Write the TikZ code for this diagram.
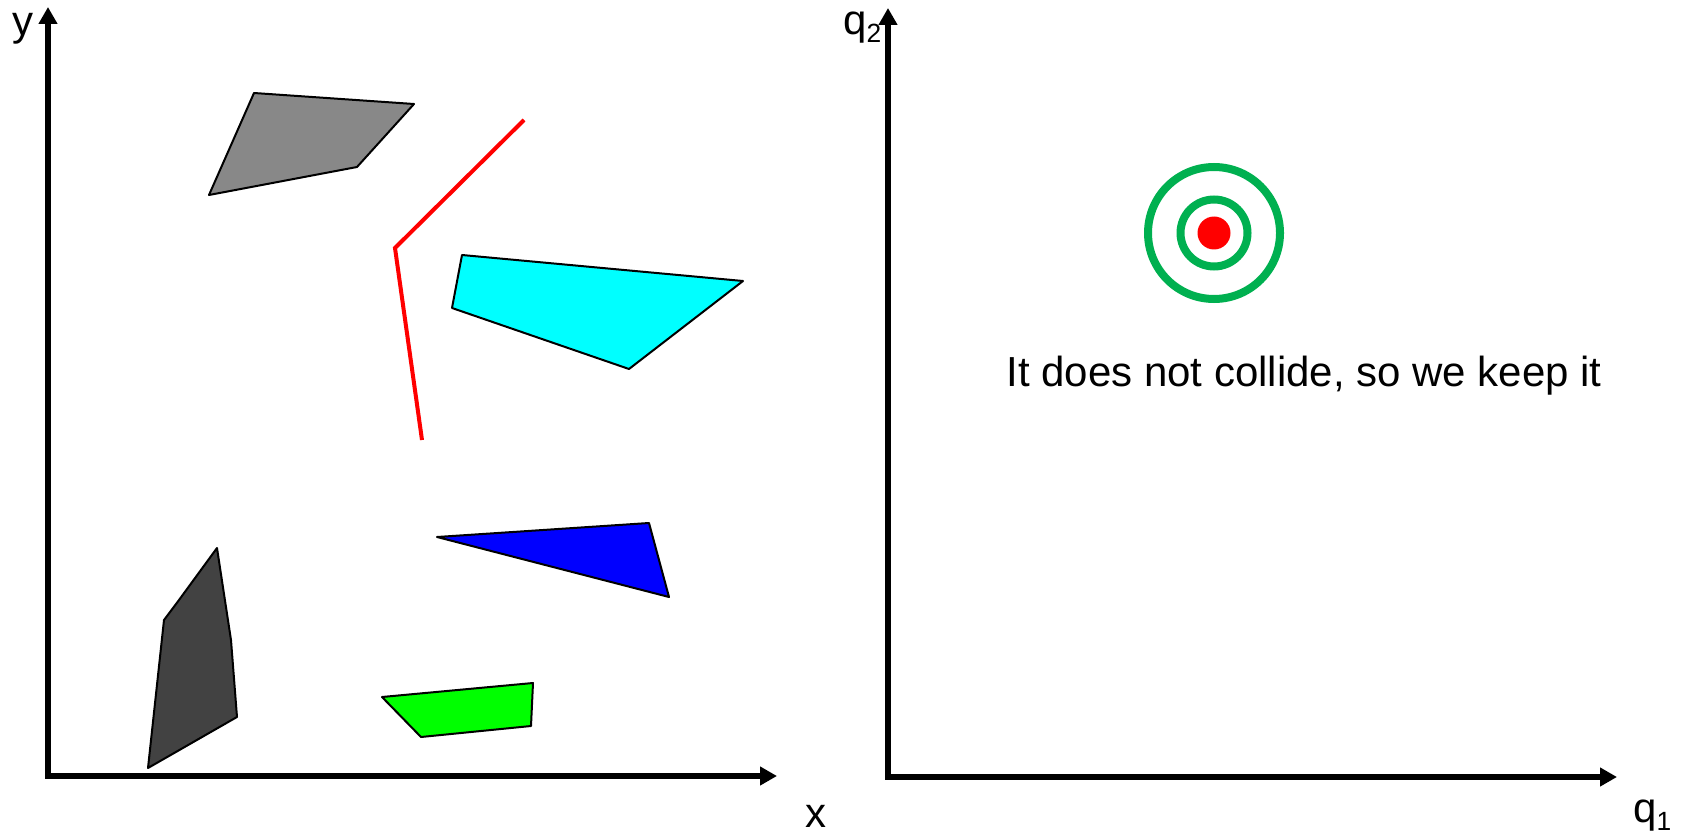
\documentclass[tikz,border=0pt]{standalone}
\usepackage{fontspec}
\setmainfont{Liberation Sans}
\usetikzlibrary{arrows.meta}
\definecolor{ringgreen}{RGB}{0,176,80}
\definecolor{oblight}{RGB}{136,136,136}
\definecolor{obdark}{RGB}{66,66,66}
\definecolor{obcyan}{RGB}{0,255,255}
\definecolor{obblue}{RGB}{0,0,255}
\definecolor{obgreen}{RGB}{0,255,0}
\definecolor{pathred}{RGB}{255,0,0}
\newcommand{\qsub}[1]{\raisebox{-1.6mm}{\fontsize{15}{16}\selectfont#1}}

\begin{document}
\begin{tikzpicture}[
  x=0.2mm,y=-0.2mm,
  axis/.style={line width=1.1mm,line join=miter,{Triangle[length=3.4mm,width=3.6mm]}-{Triangle[length=3.4mm,width=3.6mm]}},
  obstacle/.style={draw=black,line width=0.4mm,line join=round},
  robot path/.style={pathred,line width=0.8mm},
  ring/.style={draw=ringgreen,line width=1.6mm},
  axis label/.style={inner sep=0pt,anchor=base west,font=\fontsize{23.9}{28}\selectfont},
  note/.style={inner sep=0pt,anchor=base,font=\fontsize{23.9}{28}\selectfont}
]
\useasboundingbox (0,0) rectangle (1688,837);
\coordinate (ytip) at (48,7);
\coordinate (xtip) at (777,776);
\draw[axis] (ytip) |- (xtip);
\node[axis label] (ylab) at (12,36) {y};
\node[axis label] (xlab) at (805,827) {x};
\filldraw[obstacle,fill=oblight] (254,93) -- (414,104) -- (357,167) -- (209,195) -- cycle;
\filldraw[obstacle,fill=obcyan] (462,255) -- (743,281) -- (629,369) -- (452,308) -- cycle;
\filldraw[obstacle,fill=obblue] (437,537) -- (649,523) -- (669,597) -- cycle;
\filldraw[obstacle,fill=obdark] (217,548) -- (231,640) -- (237,717) -- (148,768) -- (164,620) -- (179,600) -- cycle;
\filldraw[obstacle,fill=obgreen] (382,697) -- (533,683) -- (531,726) -- (421,737) -- cycle;
\draw[robot path] (524,120) -- (395,248) -- (422,440);
\coordinate (qtip2) at (888,8);
\coordinate (qtip1) at (1617,777);
\draw[axis] (qtip2) |- (qtip1);
\node[axis label] (q2lab) at (843,35) {q\qsub{2}};
\node[axis label] (q1lab) at (1633,822) {q\qsub{1}};
\coordinate (sample) at (1214,233);
\draw[ring] (sample) circle (66);
\draw[ring] (sample) circle (33.5);
\fill[pathred] (sample) circle (16.5);
\node[note] (keep) at (1304,386) {It does not collide, so we keep it};
\end{tikzpicture}
\end{document}
